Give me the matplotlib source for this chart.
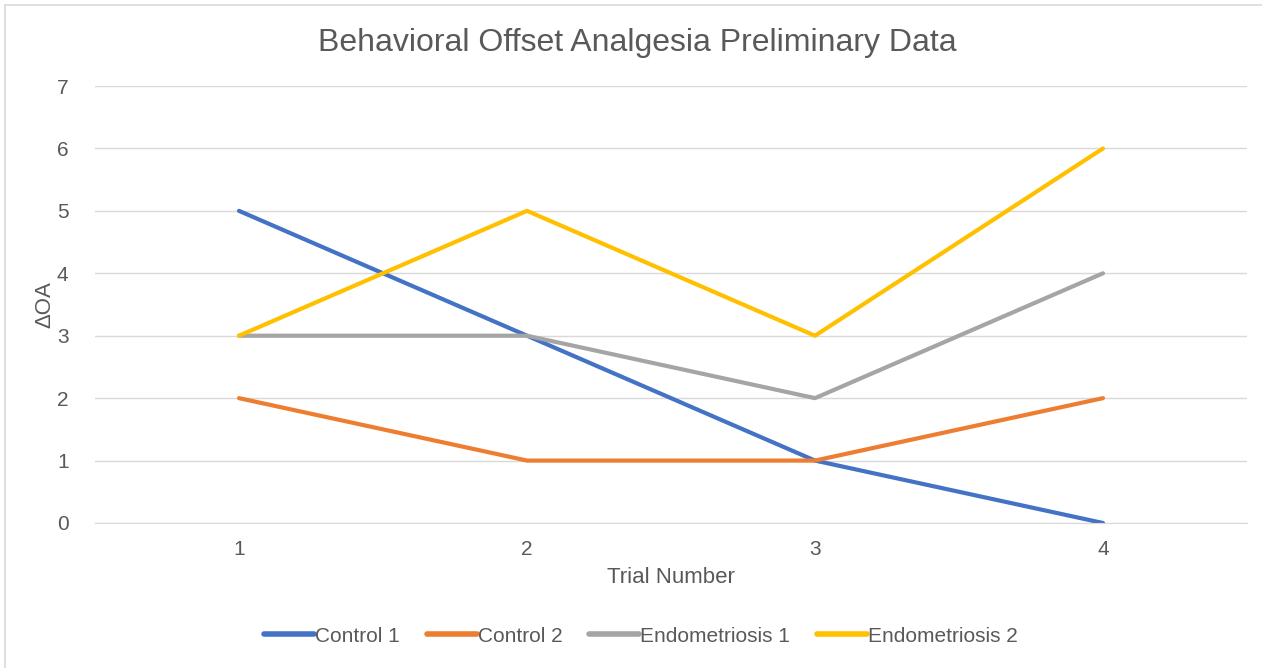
import numpy as np
import matplotlib
matplotlib.use("Agg")
from matplotlib import pyplot as plt
from matplotlib.lines import Line2D

trials = [1, 2, 3, 4]
control_1 = [5, 3, 1, 0]
control_2 = [2, 1, 1, 2]
endo_1 = [3, 3, 2, 4]
endo_2 = [3, 5, 3, 6]

series = [
    ("Control 1", control_1, "#4472C4"),
    ("Control 2", control_2, "#ED7D31"),
    ("Endometriosis 1", endo_1, "#A5A5A5"),
    ("Endometriosis 2", endo_2, "#FFC000"),
]

text_col = "#595959"
plt.rcParams['font.family'] = ['Liberation Sans', 'DejaVu Sans']

fig = plt.figure(figsize=(12.62, 6.68), dpi=100)
ax = fig.add_axes([95 / 1262, 1 - 523 / 668, (1247 - 95) / 1262, (523 - 86) / 668])

for name, vals, col in series:
    ax.plot(trials, vals, color=col, lw=3, label=name, solid_capstyle='round')

ax.set_xlim(0.5, 4.5)
ax.set_ylim(0, 7)
ax.set_xticks(trials)
ax.set_yticks(range(0, 8))
ax.grid(axis='y', color='#D9D9D9', lw=1)
ax.set_axisbelow(True)
for s in ax.spines.values():
    s.set_visible(False)
ax.spines['bottom'].set_visible(True)
ax.spines['bottom'].set_color('#D9D9D9')
ax.tick_params(length=0, labelsize=15, labelcolor=text_col, pad=12)
ax.tick_params(axis='y', pad=19)

ax.set_xlabel("Trial Number", fontsize=16, color=text_col, labelpad=6)
ax.set_ylabel("ΔOA", fontsize=16, color=text_col, labelpad=1)

fig.text(637 / 1262, 1 - 43 / 668, "Behavioral Offset Analgesia Preliminary Data",
         ha='center', va='center', fontsize=23, color=text_col)

handles = [Line2D([0], [0], color=c, lw=4, solid_capstyle='round') for _, _, c in series]
fig.legend(handles, [n for n, _, _ in series], loc='center',
           bbox_to_anchor=(641 / 1262, 1 - 636 / 668), ncol=4, frameon=False,
           fontsize=15, labelcolor=text_col, handlelength=2.4, handletextpad=0.05,
           columnspacing=1.3)

# chart border (left and top visible)
fig.add_artist(Line2D([5 / 1262, 5 / 1262], [0, 1 - 5 / 668], color='#D9D9D9', lw=1.2,
                      transform=fig.transFigure))
fig.add_artist(Line2D([5 / 1262, 1], [1 - 5 / 668, 1 - 5 / 668], color='#D9D9D9', lw=1.2,
                      transform=fig.transFigure))

fig.savefig("out.png", dpi=100)
